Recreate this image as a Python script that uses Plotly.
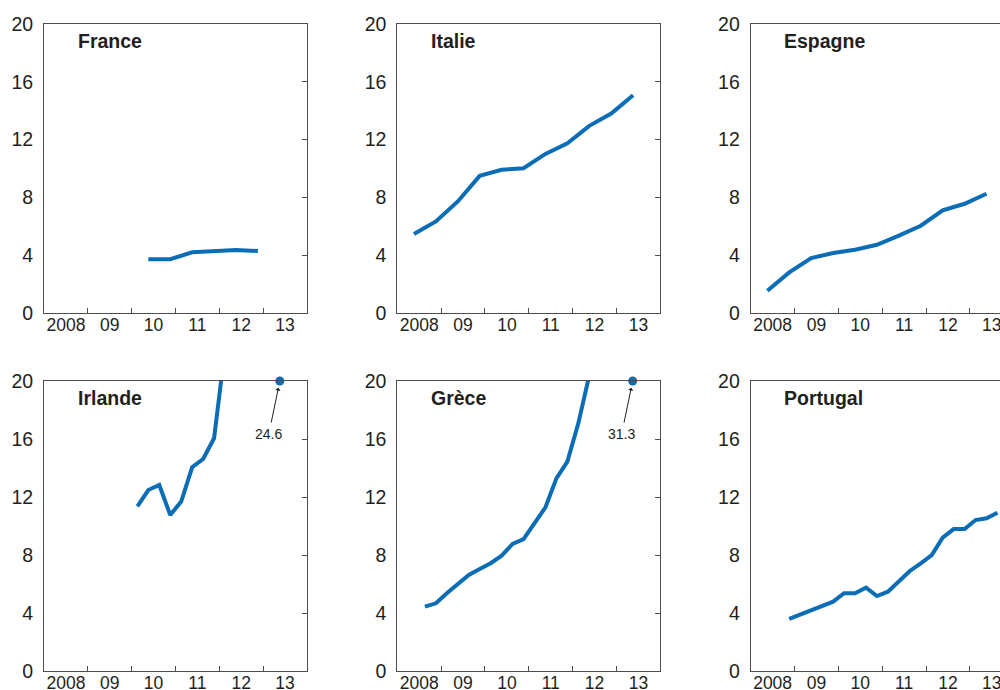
import plotly.graph_objects as go

# ---- data (percent) -------------------------------------------------------
countries = ["France", "Italie", "Espagne", "Irlande", "Grèce", "Portugal"]

france_x = [2010.38, 2010.88, 2011.38, 2011.88, 2012.38, 2012.88]
france_y = [3.72, 3.72, 4.20, 4.30, 4.36, 4.29]

italie_x = [2008.38, 2008.88, 2009.38, 2009.88, 2010.38, 2010.88,
            2011.38, 2011.88, 2012.38, 2012.88, 2013.38]
italie_y = [5.46, 6.34, 7.72, 9.49, 9.91, 10.02, 11.01, 11.75, 12.95, 13.80, 15.07]

espagne_x = [2008.38, 2008.88, 2009.38, 2009.88, 2010.38, 2010.88,
             2011.38, 2011.88, 2012.38, 2012.88, 2013.38]
espagne_y = [1.54, 2.81, 3.80, 4.15, 4.38, 4.72, 5.35, 6.04, 7.10, 7.56, 8.25]

irlande_x = [2010.13, 2010.38, 2010.63, 2010.88, 2011.13, 2011.38,
             2011.63, 2011.88, 2012.13]
irlande_y = [11.36, 12.48, 12.83, 10.76, 11.68, 14.05, 14.62, 16.05, 22.2]
irlande_last_x = 2013.38
irlande_last = 24.6

grece_x = [2008.63, 2008.88, 2009.13, 2009.38, 2009.63, 2009.88, 2010.13, 2010.38,
           2010.63, 2010.88, 2011.13, 2011.38, 2011.63, 2011.88, 2012.13, 2012.38]
grece_y = [4.44, 4.67, 5.36, 6.02, 6.62, 7.03, 7.43, 7.95,
           8.76, 9.10, 10.18, 11.29, 13.29, 14.44, 17.08, 20.4]
grece_last_x = 2013.37
grece_last = 31.3

portugal_x = [2008.88, 2009.13, 2009.38, 2009.63, 2009.88, 2010.13, 2010.38,
              2010.63, 2010.88, 2011.13, 2011.38, 2011.63, 2011.88, 2012.13,
              2012.38, 2012.63, 2012.88, 2013.13, 2013.38, 2013.63]
portugal_y = [3.59, 3.88, 4.18, 4.48, 4.78, 5.36, 5.36, 5.75, 5.17, 5.47,
              6.21, 6.90, 7.43, 8.00, 9.20, 9.79, 9.79, 10.41, 10.53, 10.92]

year_ticks = [2008.5, 2009.5, 2010.5, 2011.5, 2012.5, 2013.5]
year_labels = ["2008", "09", "10", "11", "12", "13"]
year_bounds = [2009, 2010, 2011, 2012, 2013]
y_ticks = [0, 4, 8, 12, 16, 20]
Y_MAX = 20

# ---- style ---------------------------------------------------------------
W, H = 1000, 690
BLUE = "#0a6db6"
INK = "#231f20"
FRAME = "#4d4d4d"
FONT = "Liberation Sans, Arial, Helvetica, sans-serif"

# panel pixel boxes (left, right) per column and (top, bottom) per row
COLS = [(44.0, 307.0), (397.3, 660.3), (750.7, 1013.7)]
ROWS = [(24.0, 313.0), (381.0, 671.0)]
X0, X1 = 2008, 2014

panels = [
    ("France", france_x, france_y, None, None),
    ("Italie", italie_x, italie_y, None, None),
    ("Espagne", espagne_x, espagne_y, None, None),
    ("Irlande", irlande_x, irlande_y, irlande_last_x, irlande_last),
    ("Grèce", grece_x, grece_y, grece_last_x, grece_last),
    ("Portugal", portugal_x, portugal_y, None, None),
]

fig = go.Figure()
layout = {}
annotations = []

for i, (name, xs, ys, lx, lv) in enumerate(panels):
    k = i + 1
    col, row = i % 3, i // 3
    left, right = COLS[col]
    top, bottom = ROWS[row]
    px_per_year = (right - left) / (X1 - X0)
    vis_right = min(right, W)
    x_end = X0 + (vis_right - left) / px_per_year
    dom_w = vis_right - left
    clipped = right > W

    xa = "x" if k == 1 else f"x{k}"
    ya = "y" if k == 1 else f"y{k}"

    layout[f"xaxis{k}"] = dict(
        domain=[left / W, vis_right / W], range=[X0, x_end], anchor=ya,
        showline=True, linecolor=FRAME, linewidth=1, mirror=True,
        tickmode="array", tickvals=year_ticks, ticktext=year_labels, ticks="",
        minor=dict(tickmode="array", tickvals=year_bounds, ticks="inside",
                   ticklen=5, tickwidth=1, tickcolor=FRAME, showgrid=False),
        showgrid=False, zeroline=False, fixedrange=True, automargin=False,
        ticklabeloverflow="allow", ticklabelstandoff=-4,
        tickfont=dict(family=FONT, size=17.5, color=INK),
    )
    layout[f"yaxis{k}"] = dict(
        domain=[1 - bottom / H, 1 - top / H], range=[0, Y_MAX], anchor=xa,
        showline=True, linecolor=FRAME, linewidth=1, mirror=not clipped,
        tickmode="array", tickvals=y_ticks, ticks="",
        showgrid=False, zeroline=False, fixedrange=True, automargin=False,
        ticklabelstandoff=6, ticklabeloverflow="allow",
        tickfont=dict(family=FONT, size=19.5, color=INK),
    )

    fig.add_trace(go.Scatter(
        x=xs, y=ys, xaxis=xa, yaxis=ya, mode="lines",
        line=dict(color=BLUE, width=4), showlegend=False, hoverinfo="skip",
    ))

    # inward tick marks on the right-hand frame
    if not clipped:
        k2 = k + 6
        layout[f"yaxis{k2}"] = dict(
            overlaying=ya, side="right", anchor=xa, range=[0, Y_MAX],
            tickmode="array", tickvals=[4, 8, 12, 16], ticks="inside",
            ticklen=5, tickwidth=1, tickcolor=FRAME, showticklabels=False,
            showline=False, showgrid=False, zeroline=False, fixedrange=True,
            automargin=False,
        )
        fig.add_trace(go.Scatter(
            x=[None], y=[None], xaxis=xa, yaxis=f"y{k2}", mode="lines",
            showlegend=False, hoverinfo="skip",
        ))

    # panel title
    annotations.append(dict(
        text=f"<b>{name}</b>", xref=f"{xa} domain", yref=f"{ya} domain",
        x=31.5 / dom_w, y=(bottom - top - 16.5) / (bottom - top),
        xanchor="left", yanchor="middle", showarrow=False,
        font=dict(family=FONT, size=19.5, color=INK),
    ))

    # latest value beyond the scale: dot on the top edge + labelled arrow
    if lv is not None:
        shown = min(lv, Y_MAX)
        fig.add_trace(go.Scatter(
            x=[lx], y=[shown], xaxis=xa, yaxis=ya, mode="markers",
            marker=dict(color=BLUE, size=9), cliponaxis=False,
            showlegend=False, hoverinfo="skip",
        ))
        annotations.append(dict(
            text=f"{lv}", x=lx, y=shown, xref=xa, yref=ya,
            showarrow=True, ax=-11, ay=53, axref="pixel", ayref="pixel",
            arrowhead=1, arrowsize=0.9, arrowwidth=1, arrowcolor=INK,
            standoff=7, borderpad=3,
            font=dict(family=FONT, size=14, color=INK),
        ))

fig.update_layout(
    width=W, height=H, margin=dict(l=0, r=0, t=0, b=0, autoexpand=False),
    paper_bgcolor="white", plot_bgcolor="white",
    font=dict(family=FONT, color=INK),
    annotations=annotations, showlegend=False,
    **layout,
)

fig.write_html("out.html", config={"displayModeBar": False})
